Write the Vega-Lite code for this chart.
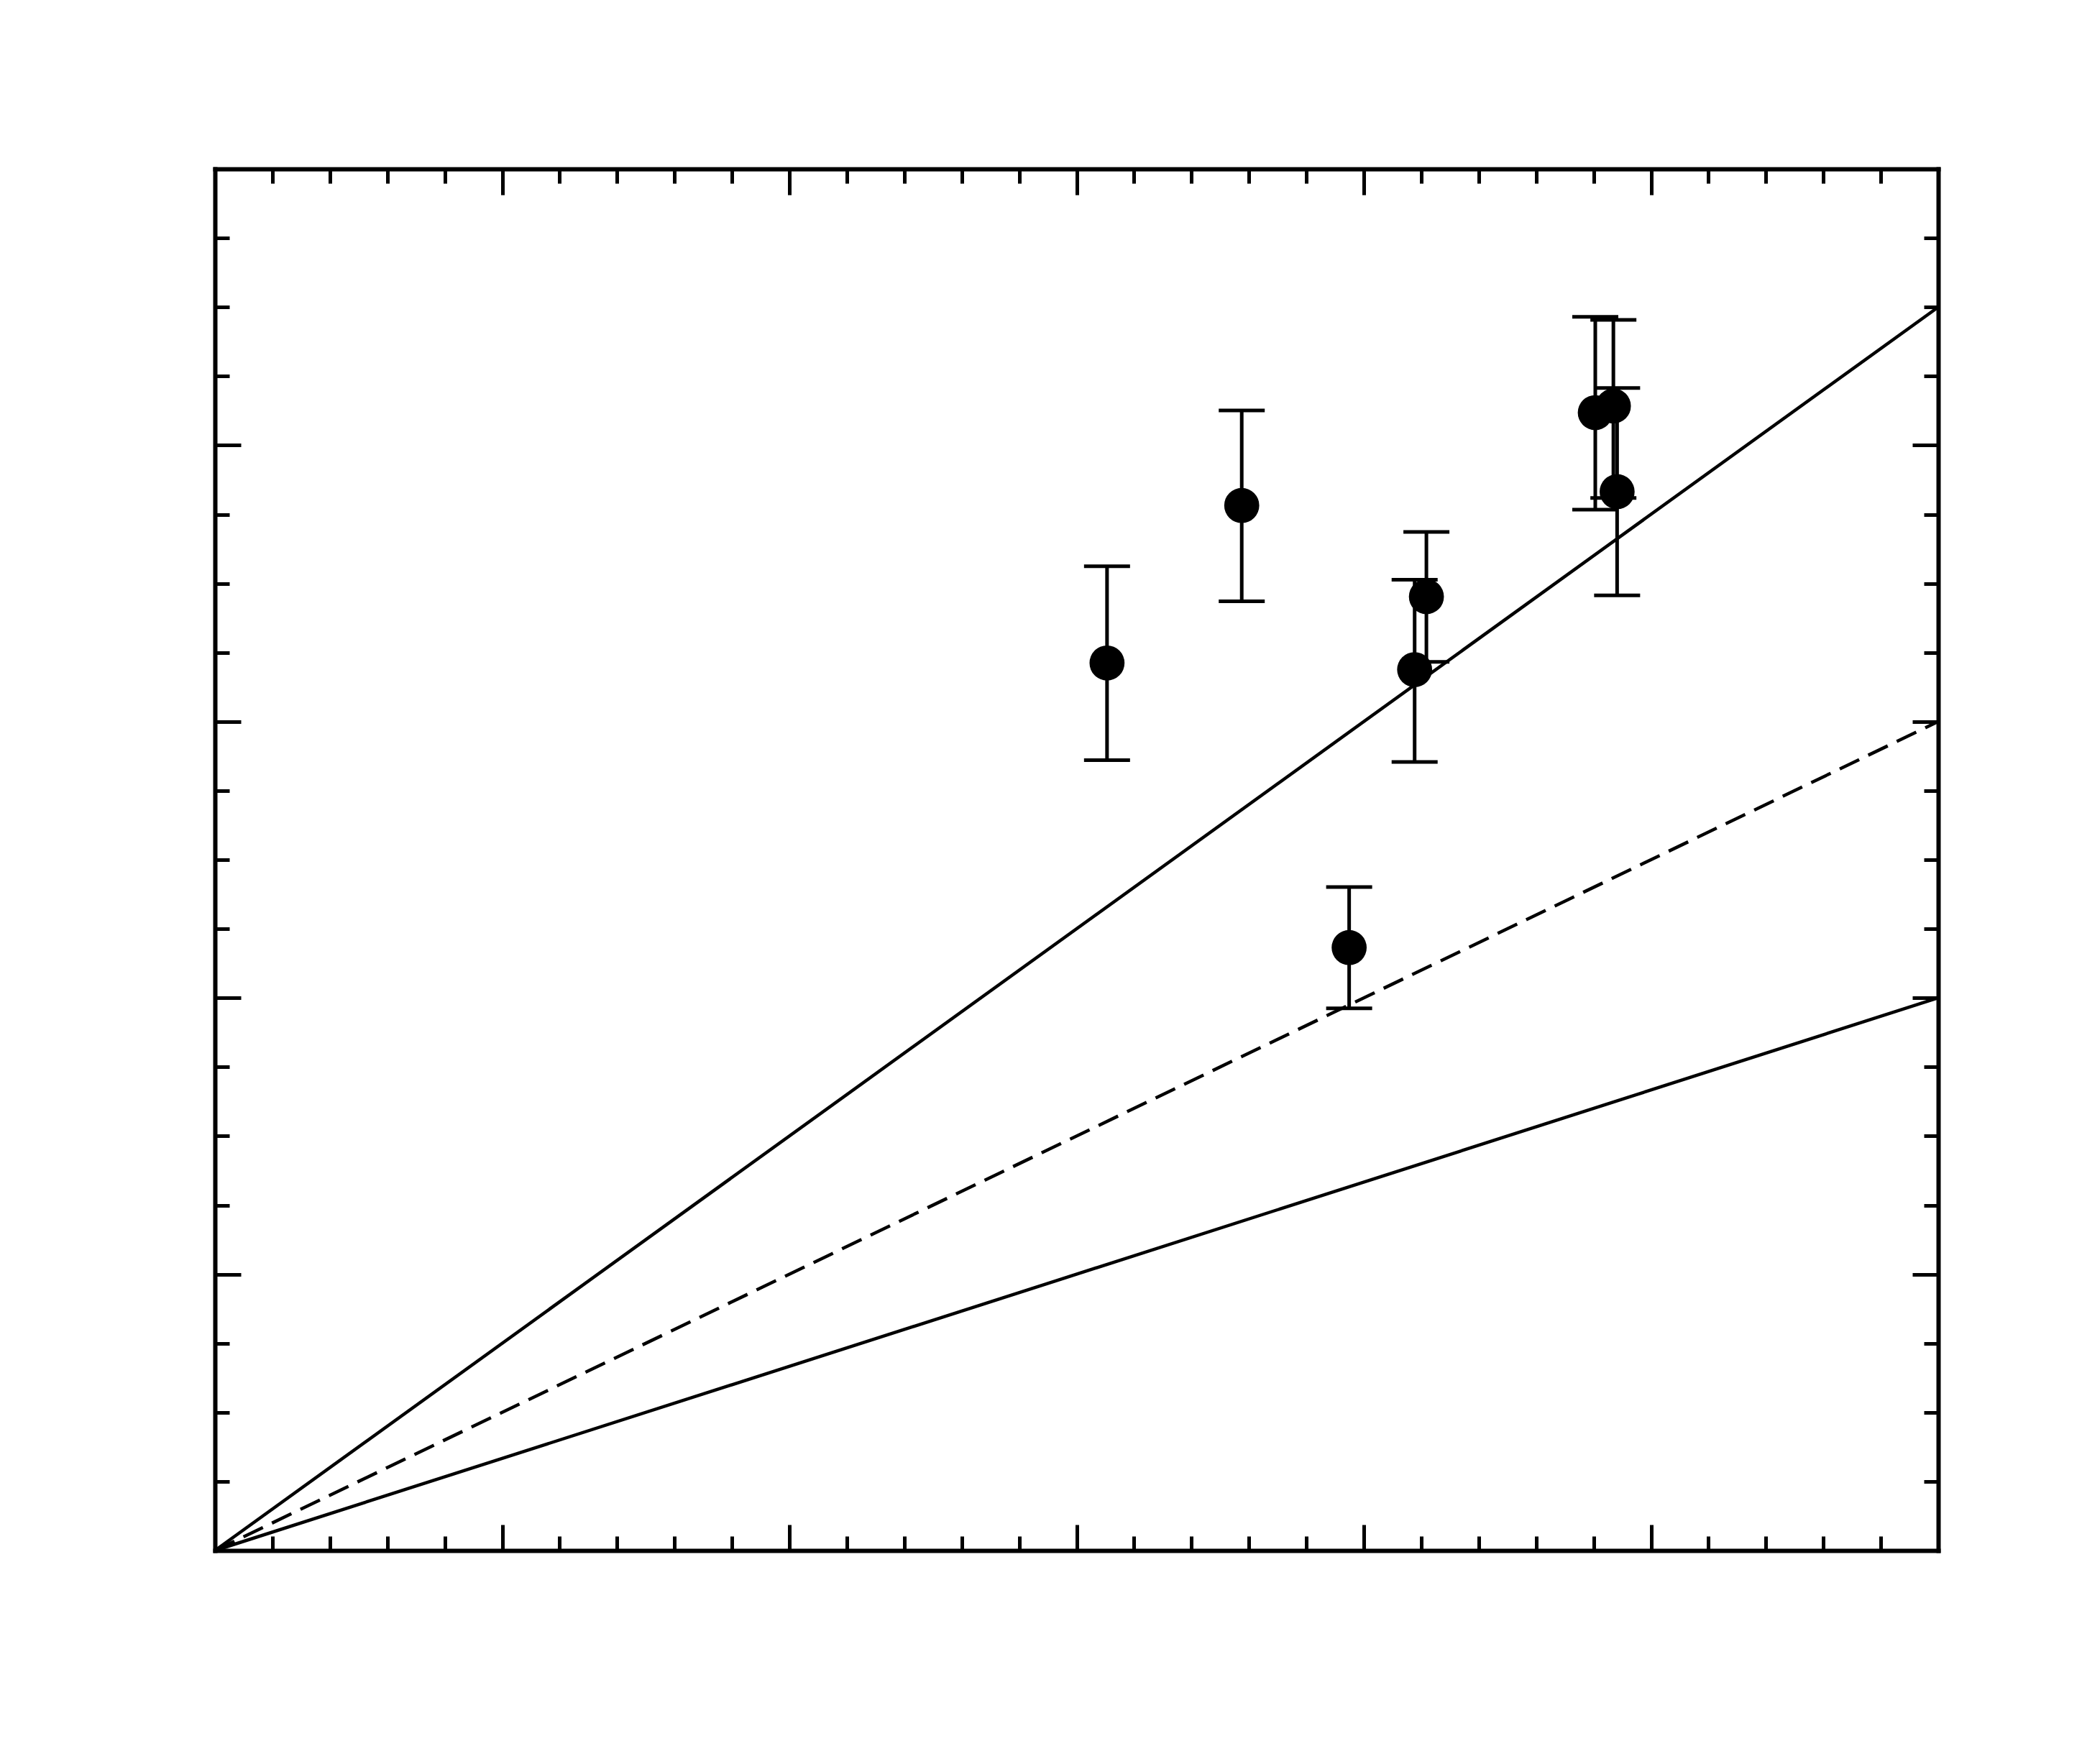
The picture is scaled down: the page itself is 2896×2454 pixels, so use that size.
{
  "$schema": "https://vega.github.io/schema/vega-lite/v6.json",
  "width": 2397,
  "height": 1922,
  "autosize": {"type": "none"},
  "padding": {"left": 299, "top": 235, "right": 200, "bottom": 297},
  "background": "white",
  "config": {"view": {"stroke": null}},
  "datasets": {
    "pts": [
      {"x": 3.106, "y": 3.212, "lo": 2.860, "hi": 3.562},
      {"x": 3.575, "y": 3.782, "lo": 3.435, "hi": 4.126},
      {"x": 3.949, "y": 2.182, "lo": 1.962, "hi": 2.401},
      {"x": 4.177, "y": 3.188, "lo": 2.854, "hi": 3.513},
      {"x": 4.218, "y": 3.452, "lo": 3.216, "hi": 3.686},
      {"x": 4.806, "y": 4.118, "lo": 3.767, "hi": 4.465},
      {"x": 4.869, "y": 4.142, "lo": 3.809, "hi": 4.454},
      {"x": 4.882, "y": 3.832, "lo": 3.457, "hi": 4.207}
    ],
    "lines": [
      {"line": "upper", "x0": 0, "y0": 0, "x1": 6, "y1": 4.5, "style": "solid"},
      {"line": "lower", "x0": 0, "y0": 0, "x1": 6, "y1": 2.0, "style": "solid"},
      {"line": "middle", "x0": 0, "y0": 0, "x1": 6, "y1": 3.0, "style": "dashed"}
    ]
  },
  "resolve": {"axis": {"x": "independent", "y": "independent"}},
  "layer": [
    {
      "data": {"name": "lines"},
      "transform": [{"filter": "datum.style === 'solid'"}],
      "mark": {"type": "rule", "strokeWidth": 4.5, "color": "black"},
      "encoding": {
        "x": {"field": "x0", "type": "quantitative", "scale": {"domain": [0, 6], "nice": false, "zero": true},
          "axis": {"orient": "bottom", "values": [0,0.2,0.4,0.6,0.8,1,1.2,1.4,1.6,1.8,2,2.2,2.4,2.6,2.8,3,3.2,3.4,3.6,3.8,4,4.2,4.4,4.6,4.8,5,5.2,5.4,5.6,5.8,6],
            "labels": false, "title": null, "grid": false, "domain": true, "domainColor": "black", "domainWidth": 6, "domainCap": "square",
            "tickColor": "black", "tickWidth": 5,
            "tickSize": {"condition": {"test": "abs(datum.value - round(datum.value)) < 0.01", "value": -36}, "value": -20}}},
        "y": {"field": "y0", "type": "quantitative", "scale": {"domain": [0, 5], "nice": false, "zero": true},
          "axis": {"orient": "left", "values": [0,0.25,0.5,0.75,1,1.25,1.5,1.75,2,2.25,2.5,2.75,3,3.25,3.5,3.75,4,4.25,4.5,4.75,5],
            "labels": false, "title": null, "grid": false, "domain": true, "domainColor": "black", "domainWidth": 6, "domainCap": "square",
            "tickColor": "black", "tickWidth": 5,
            "tickSize": {"condition": {"test": "abs(datum.value - round(datum.value)) < 0.01", "value": -36}, "value": -20}}},
        "x2": {"field": "x1"},
        "y2": {"field": "y1"}
      }
    },
    {
      "data": {"name": "lines"},
      "transform": [{"filter": "datum.style === 'dashed'"}],
      "mark": {"type": "rule", "strokeWidth": 4.5, "color": "black", "strokeDash": [30, 14]},
      "encoding": {
        "x": {"field": "x0", "type": "quantitative",
          "axis": {"orient": "top", "values": [0,0.2,0.4,0.6,0.8,1,1.2,1.4,1.6,1.8,2,2.2,2.4,2.6,2.8,3,3.2,3.4,3.6,3.8,4,4.2,4.4,4.6,4.8,5,5.2,5.4,5.6,5.8,6],
            "labels": false, "title": null, "grid": false, "domain": true, "domainColor": "black", "domainWidth": 6, "domainCap": "square",
            "tickColor": "black", "tickWidth": 5,
            "tickSize": {"condition": {"test": "abs(datum.value - round(datum.value)) < 0.01", "value": -36}, "value": -20}}},
        "y": {"field": "y0", "type": "quantitative",
          "axis": {"orient": "right", "values": [0,0.25,0.5,0.75,1,1.25,1.5,1.75,2,2.25,2.5,2.75,3,3.25,3.5,3.75,4,4.25,4.5,4.75,5],
            "labels": false, "title": null, "grid": false, "domain": true, "domainColor": "black", "domainWidth": 6, "domainCap": "square",
            "tickColor": "black", "tickWidth": 5,
            "tickSize": {"condition": {"test": "abs(datum.value - round(datum.value)) < 0.01", "value": -36}, "value": -20}}},
        "x2": {"field": "x1"},
        "y2": {"field": "y1"}
      }
    },
    {
      "data": {"name": "pts"},
      "mark": {"type": "rule", "strokeWidth": 5, "color": "black"},
      "encoding": {
        "x": {"field": "x", "type": "quantitative", "axis": null},
        "y": {"field": "lo", "type": "quantitative", "axis": null},
        "y2": {"field": "hi"}
      }
    },
    {
      "data": {"name": "pts"},
      "mark": {"type": "tick", "orient": "horizontal", "size": 64, "thickness": 5, "color": "black", "opacity": 1},
      "encoding": {
        "x": {"field": "x", "type": "quantitative", "axis": null},
        "y": {"field": "lo", "type": "quantitative", "axis": null}
      }
    },
    {
      "data": {"name": "pts"},
      "mark": {"type": "tick", "orient": "horizontal", "size": 64, "thickness": 5, "color": "black", "opacity": 1},
      "encoding": {
        "x": {"field": "x", "type": "quantitative", "axis": null},
        "y": {"field": "hi", "type": "quantitative", "axis": null}
      }
    },
    {
      "data": {"name": "pts"},
      "mark": {"type": "point", "shape": "circle", "filled": true, "size": 2376, "color": "black", "opacity": 1},
      "encoding": {
        "x": {"field": "x", "type": "quantitative", "axis": null},
        "y": {"field": "y", "type": "quantitative", "axis": null}
      }
    }
  ]
}
